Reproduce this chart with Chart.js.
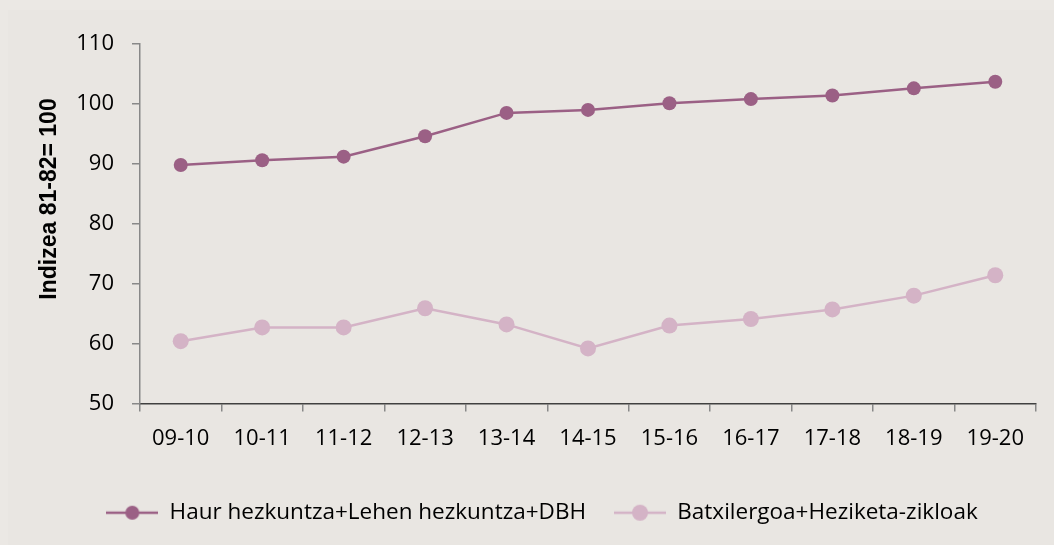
<!DOCTYPE html>
<html>
<head>
<meta charset="utf-8">
<script src="https://cdn.jsdelivr.net/npm/chart.js@4/dist/chart.umd.min.js"></script>
<style>
  html, body { margin: 0; padding: 0; background: #ebe8e4; }
  #wrap { position: absolute; left: 8px; top: 10px; width: 1046px; height: 535px; background: #e9e6e2; }
</style>
</head>
<body>
<div id="wrap"><canvas id="chart"></canvas></div>
<script>
// school years
const years = ['09-10', '10-11', '11-12', '12-13', '13-14', '14-15', '15-16', '16-17', '17-18', '18-19', '19-20'];
// index 81-82 = 100
const haurLehenDbh = [89.8, 90.6, 91.2, 94.6, 98.5, 99.0, 100.1, 100.8, 101.4, 102.6, 103.7];
const batxHeziketa = [60.4, 62.7, 62.7, 65.9, 63.2, 59.2, 63.0, 64.1, 65.7, 68.0, 71.4];
const seriesNames = ['Haur hezkuntza+Lehen hezkuntza+DBH', 'Batxilergoa+Heziketa-zikloak'];
const yTicks = [50, 60, 70, 80, 90, 100, 110];
const yTitle = 'Indizea 81-82= 100';

const dark = '#9b6085';
const light = '#d4b3c6';

// line with a dot in the middle, used as legend symbol
function legendIcon(color, r) {
  const c = document.createElement('canvas');
  c.width = 52; c.height = 20;
  const g = c.getContext('2d');
  g.strokeStyle = color; g.lineWidth = 2.5;
  g.beginPath(); g.moveTo(0, 10); g.lineTo(52, 10); g.stroke();
  g.fillStyle = color;
  g.beginPath(); g.arc(26, 10, r, 0, Math.PI * 2); g.fill();
  return c;
}

// rotated y title, sits a bit above the middle like the original
const yTitlePlugin = {
  id: 'yTitle',
  afterDraw(chart) {
    const c = chart.ctx;
    c.save();
    c.translate(42, 189);
    c.rotate(-Math.PI / 2);
    c.font = "bold 23px 'Liberation Sans', sans-serif";
    c.fillStyle = '#000';
    c.textAlign = 'center';
    c.textBaseline = 'middle';
    c.fillText(yTitle, 0, 0);
    c.restore();
  }
};

const ctx = document.getElementById('chart').getContext('2d');

new Chart(ctx, {
  type: 'line',
  data: {
    labels: years,
    datasets: [{
      label: seriesNames[0],
      data: haurLehenDbh,
      borderColor: dark,
      backgroundColor: dark,
      borderWidth: 2.5,
      pointRadius: 7,
      pointHoverRadius: 7,
      pointBorderWidth: 0
    }, {
      label: seriesNames[1],
      data: batxHeziketa,
      borderColor: light,
      backgroundColor: light,
      borderWidth: 2.5,
      pointRadius: 8,
      pointHoverRadius: 8,
      pointBorderWidth: 0
    }]
  },
  plugins: [yTitlePlugin],
  options: {
    responsive: true,
    maintainAspectRatio: false,
    animation: false,
    layout: {
      padding: { top: 34, right: 18, left: 40, bottom: 11 }
    },
    plugins: {
      tooltip: { enabled: false },
      legend: {
        position: 'bottom',
        labels: {
          usePointStyle: true,
          pointStyleWidth: 52,
          color: '#000',
          padding: 28,
          font: { family: "'Open Sans', sans-serif", size: 22.5 },
          generateLabels: chart => chart.data.datasets.map((ds, i) => ({
            text: ds.label,
            datasetIndex: i,
            fillStyle: ds.borderColor,
            strokeStyle: ds.borderColor,
            lineWidth: 0,
            hidden: false,
            fontColor: '#000',
            pointStyle: legendIcon(ds.borderColor, i === 0 ? 7 : 8)
          }))
        }
      }
    },
    scales: {
      x: {
        offset: true,
        grid: {
          display: true,
          drawOnChartArea: false,
          offset: true,
          tickLength: 8,
          color: '#888888',
          lineWidth: 1.5
        },
        border: { color: '#404040', width: 1.5 },
        ticks: {
          color: '#000',
          padding: 14,
          font: { family: "'Open Sans', sans-serif", size: 22 }
        },
        afterFit: scale => { scale.height = 70; }
      },
      y: {
        min: 50,
        max: 110,
        afterBuildTicks: scale => { scale.ticks = yTicks.map(v => ({ value: v })); },
        grid: {
          display: true,
          drawOnChartArea: false,
          tickLength: 8,
          color: '#888888',
          lineWidth: 1.5
        },
        border: { color: '#888888', width: 1.5 },
        ticks: {
          color: '#000',
          padding: 18,
          font: { family: "'Open Sans', sans-serif", size: 22 }
        },
        afterFit: scale => { scale.width = 92; }
      }
    }
  }
});
</script>
</body>
</html>
